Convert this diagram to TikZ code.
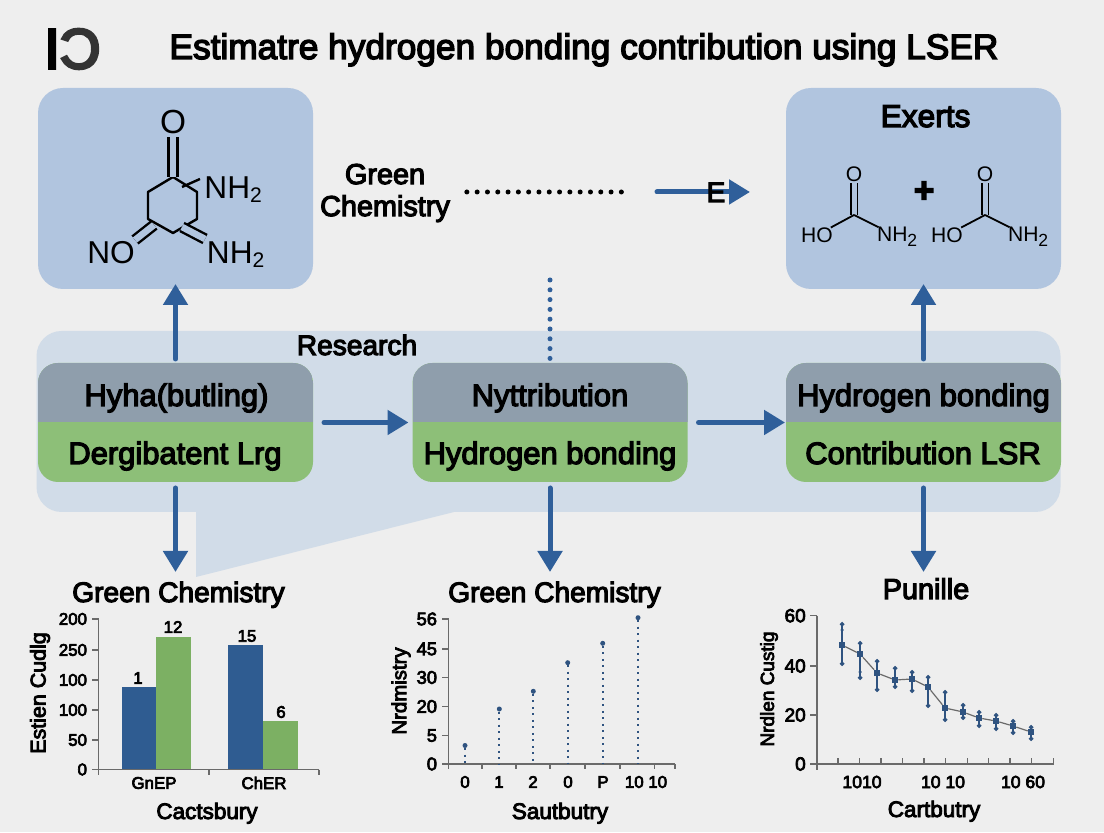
\documentclass[tikz,border=0pt]{standalone}
\usepackage{graphicx}
\usepackage{fontspec}
\setmainfont[FakeBold=4]{Liberation Sans}
\newfontfamily\logofont[FakeBold=5]{Liberation Sans}
\newfontfamily\atomfont{Liberation Sans}
\usetikzlibrary{arrows.meta}
\definecolor{PageGray}{HTML}{EEEEEE}
\definecolor{PanelBlue}{HTML}{D1DCE8}
\definecolor{BoxBlue}{HTML}{B1C5DF}
\definecolor{StageGray}{HTML}{8F9EAC}
\definecolor{StageGreen}{HTML}{8DBF78}
\definecolor{FlowBlue}{HTML}{2F5F9A}
\definecolor{BarBlue}{HTML}{2F5C91}
\definecolor{BarGreen}{HTML}{7CB063}
\definecolor{PlotBlue}{HTML}{2F5380}
\definecolor{AxisGray}{HTML}{6A6A6A}

\begin{document}
\begin{tikzpicture}[
        every node/.style={inner sep=0pt, outer sep=0pt},
        titletext/.style={font=\fontsize{10.03}{12}\selectfont},
        headtext/.style={font=\fontsize{8}{9.1}\selectfont},
        stagetext/.style={font=\fontsize{8.8}{10}\selectfont, anchor=base},
        atomtext/.style={font=\atomfont\fontsize{9}{10}\selectfont},
        smallatom/.style={font=\atomfont\fontsize{6}{7}\selectfont},
        axistext/.style={font=\fontsize{6.4}{7}\selectfont},
        ticktext/.style={font=\fontsize{4.8}{6}\selectfont},
        molbox/.style={rounded corners=.25cm, fill=BoxBlue, minimum width=2.75cm, minimum height=2.01cm},
        stagebox/.style={rounded corners=.2cm, fill=StageGreen, minimum width=2.75cm, minimum height=1.19cm,
            path picture={\fill[StageGray, sharp corners] (path picture bounding box.north west) rectangle (path picture bounding box.east);}},
        flow/.style={-{Triangle[length=.21cm,width=.24cm]}, draw=FlowBlue, line width=.05cm, line cap=round},
        bond/.style={draw=black, line width=.024cm},
        dblbond/.style={bond, double=BoxBlue, double distance=.066cm},
        thinbond/.style={draw=black, line width=.018cm},
        thindbl/.style={thinbond, double=BoxBlue, double distance=.05cm},
        axisline/.style={draw=AxisGray, line width=.012cm},
        stem/.style={draw=PlotBlue, line width=.018cm, dash pattern=on .02cm off .045cm},
        dotpt/.style={circle, fill=PlotBlue, minimum size=.05cm},
        sqpt/.style={rectangle, fill=PlotBlue, minimum size=.065cm},
        whisk/.style={circle, fill=PlotBlue, minimum size=.035cm},
        errbar/.style={{Circle[length=.045cm]}-{Circle[length=.045cm]}, draw=PlotBlue, line width=.012cm}]
    \fill[PageGray] (0,0) rectangle (11.04,8.32);
    \useasboundingbox (0,0) rectangle (11.04,8.32);

    % header
    \node[font=\logofont\fontsize{16}{18}\selectfont] (logo) at (0.725,7.83) {\reflectbox{\textcolor{black!80}{C}I}};
    \node[titletext, anchor=base] (title) at (5.84,7.73) {Estimatre hydrogen bonding contribution using LSER};

    % research panel
    \node[rounded corners=.25cm, fill=PanelBlue, minimum width=10.24cm, minimum height=1.81cm] (panel) at (5.485,4.105) {};
    \fill[PanelBlue] (1.96,3.20) -- (1.96,2.55) -- (4.54,3.20) -- cycle;
    \node[headtext, anchor=base] (research) at (3.57,4.77) {Research};

    % upper boxes
    \node[molbox] (reactant) at (1.755,6.435) {};
    \node[molbox] (exerts) at (9.235,6.435) {};
    \node[headtext, font=\fontsize{8.2}{9.1}\selectfont, align=center] (greenchem) at (3.85,6.39) {Green\\Chemistry};
    \node[headtext, font=\fontsize{9}{10}\selectfont, anchor=base] (exertslabel) at (9.255,7.05) {Exerts};

    % stages
    \node[stagebox] (hb1) at (1.755,4.095) {};
    \node[stagebox] (hb2) at (5.50,4.095) {};
    \node[stagebox] (hb3) at (9.235,4.095) {};
    \node[stagetext] (hb1top) at (1.765,4.26) {Hyha(butling)};
    \node[stagetext] (hb1low) at (1.75,3.68) {Dergibatent Lrg};
    \node[stagetext] (hb2top) at (5.50,4.26) {Nyttribution};
    \node[stagetext] (hb2low) at (5.50,3.68) {Hydrogen bonding};
    \node[stagetext] (hb3top) at (9.235,4.26) {Hydrogen bonding};
    \node[stagetext] (hb3low) at (9.23,3.68) {Contribution LSR};

    % connectors
    \coordinate (d1) at (1.755,2.60);
    \coordinate (d2) at (5.50,2.60);
    \coordinate (d3) at (9.235,2.60);
    \coordinate (etail) at (6.57,6.40);
    \coordinate (etip) at (7.50,6.40);
    \coordinate (dotend) at (6.25,6.40);
    \coordinate (dottop) at (5.50,5.52);
    \draw[flow, shorten <=.04cm, shorten >=-.05cm] (hb1.north) -- (reactant.south);
    \draw[flow, shorten <=.04cm, shorten >=-.05cm] (hb3.north) -- (exerts.south);
    \draw[flow, shorten <=.06cm] (hb1.south) -- (d1);
    \draw[flow, shorten <=.06cm] (hb2.south) -- (d2);
    \draw[flow, shorten <=.06cm] (hb3.south) -- (d3);
    \draw[flow, shorten <=.11cm, shorten >=.04cm] (hb1.east) -- (hb2.west);
    \draw[flow, shorten <=.11cm, shorten >=.01cm] (hb2.east) -- (hb3.west);
    \draw[flow] (etail) -- (etip);
    \node[headtext, anchor=base] (elabel) at (7.16,6.30) {E};
    \draw[draw=black, line width=.05cm, line cap=round, dash pattern=on 0pt off .103cm, shorten <=.17cm] (greenchem.east |- dotend) -- (dotend);
    \draw[draw=FlowBlue, line width=.05cm, line cap=round, dash pattern=on 0pt off .098cm, shorten >=.03cm] (dottop) -- (hb2.north);

    % molecule on the left
    \coordinate (r1) at (1.73,6.55);
    \coordinate (r2) at (1.97,6.40);
    \coordinate (r3) at (1.97,6.13);
    \coordinate (r4) at (1.73,5.99);
    \coordinate (r5) at (1.48,6.13);
    \coordinate (r6) at (1.48,6.40);
    \coordinate (na) at (1.82,6.45);
    \coordinate (nb) at (2.00,6.53);
    \coordinate (ca) at (1.54,6.07);
    \coordinate (cb) at (1.35,5.92);
    \coordinate (cc) at (1.82,6.05);
    \coordinate (cd) at (2.05,5.93);
    \node[atomtext, font=\atomfont\fontsize{9.5}{10}\selectfont] (oxo) at (1.73,7.10) {O};
    \node[atomtext] (nhtop) at (2.34,6.42) {NH\textsubscript{2}};
    \node[atomtext] (nolabel) at (1.11,5.79) {NO};
    \node[atomtext] (nhlow) at (2.365,5.77) {NH\textsubscript{2}};
    \draw[bond, line join=round] (r1) -- (r2) -- (r3) -- (r4) -- (r5) -- (r6) -- cycle;
    \draw[dblbond, shorten >=.03cm] (r1) -- (oxo.south);
    \draw[bond] (na) -- (nb);
    \draw[dblbond] (ca) -- (cb);
    \draw[dblbond] (cc) -- (cd);

    % molecules on the right
    \coordinate (c1) at (8.54,6.17);
    \coordinate (c2) at (9.85,6.17);
    \node[smallatom] (o1) at (8.54,6.58) {O};
    \node[smallatom] (h1) at (8.17,5.97) {HO};
    \node[smallatom] (n1) at (8.98,5.95) {NH\textsubscript{2}};
    \node[smallatom] (o2) at (9.85,6.58) {O};
    \node[smallatom] (h2) at (9.47,5.97) {HO};
    \node[smallatom] (n2) at (10.29,5.95) {NH\textsubscript{2}};
    \node[font=\fontsize{10}{12}\bfseries\selectfont] (plus) at (9.24,6.40) {+};
    \draw[thindbl, shorten >=.02cm] (c1) -- (o1.south);
    \draw[thinbond] (c1) -- (h1);
    \draw[thinbond] (c1) -- (n1);
    \draw[thindbl, shorten >=.02cm] (c2) -- (o2.south);
    \draw[thinbond] (c2) -- (h2);
    \draw[thinbond] (c2) -- (n2);

    % bar chart
    \node[headtext, anchor=base] (gc1) at (1.785,2.30) {Green Chemistry};
    \fill[BarBlue] (1.22,.625) rectangle (1.56,1.45);
    \fill[BarGreen] (1.56,.625) rectangle (1.91,1.95);
    \fill[BarBlue] (2.28,.625) rectangle (2.63,1.87);
    \fill[BarGreen] (2.63,.625) rectangle (2.98,1.11);
    \draw[axisline] (.987,2.13) -- (.987,.625) -- (3.19,.625);
    \draw[axisline] (.92,2.13) -- (.987,2.13) (.92,1.82) -- (.987,1.82) (.92,1.52) -- (.987,1.52) (.92,1.22) -- (.987,1.22) (.92,.92) -- (.987,.92) (.92,.625) -- (.987,.625);
    \draw[axisline] (.987,.625) -- (.987,.575) (2.09,.625) -- (2.09,.575) (3.19,.625) -- (3.19,.575);
    \node[ticktext, anchor=east] (a1) at (.87,2.13) {200};
    \node[ticktext, anchor=east] (a2) at (.87,1.82) {250};
    \node[ticktext, anchor=east] (a3) at (.87,1.52) {100};
    \node[ticktext, anchor=east] (a4) at (.87,1.22) {100};
    \node[ticktext, anchor=east] (a5) at (.87,.92) {50};
    \node[ticktext, anchor=east] (a6) at (.87,.625) {0};
    \node[ticktext] (v1) at (1.38,1.54) {1};
    \node[ticktext] (v2) at (1.73,2.05) {12};
    \node[ticktext] (v3) at (2.47,1.96) {15};
    \node[ticktext] (v4) at (2.81,1.20) {6};
    \node[ticktext] (l1) at (1.54,.49) {GnEP};
    \node[ticktext] (l2) at (2.64,.49) {ChER};
    \node[axistext, anchor=base] (xa) at (2.07,.13) {Cactsbury};
    \node[axistext, font=\fontsize{6.1}{7}\selectfont, rotate=90] (ya) at (.40,1.39) {Estien Cudlg};

    % stem chart
    \node[headtext, anchor=base] (gc2) at (5.545,2.30) {Green Chemistry};
    \coordinate (o2a) at (4.487,.68);
    \draw[axisline] (4.487,2.13) -- (o2a) -- (6.75,.68);
    \draw[axisline] (4.42,2.13) -- (4.487,2.13) (4.42,1.83) -- (4.487,1.83) (4.42,1.545) -- (4.487,1.545) (4.42,1.255) -- (4.487,1.255) (4.42,.965) -- (4.487,.965) (4.42,.68) -- (4.487,.68);
    \draw[axisline] (4.487,.68) -- (4.487,.63) (4.82,.68) -- (4.82,.63) (5.16,.68) -- (5.16,.63) (5.50,.68) -- (5.50,.63) (5.85,.68) -- (5.85,.63) (6.20,.68) -- (6.20,.63) (6.543,.68) -- (6.543,.63) (6.75,.68) -- (6.75,.63);
    \node[dotpt] (s1) at (4.65,.865) {};
    \node[dotpt] (s2) at (4.993,1.23) {};
    \node[dotpt] (s3) at (5.333,1.407) {};
    \node[dotpt] (s4) at (5.677,1.693) {};
    \node[dotpt] (s5) at (6.027,1.887) {};
    \node[dotpt] (s6) at (6.38,2.143) {};
    \draw[stem] (s1) -- (s1 |- o2a);
    \draw[stem] (s2) -- (s2 |- o2a);
    \draw[stem] (s3) -- (s3 |- o2a);
    \draw[stem] (s4) -- (s4 |- o2a);
    \draw[stem] (s5) -- (s5 |- o2a);
    \draw[stem] (s6) -- (s6 |- o2a);
    \node[ticktext, anchor=east, font=\fontsize{5.2}{6}\selectfont] (b1) at (4.37,2.13) {56};
    \node[ticktext, anchor=east, font=\fontsize{5.2}{6}\selectfont] (b2) at (4.37,1.83) {45};
    \node[ticktext, anchor=east, font=\fontsize{5.2}{6}\selectfont] (b3) at (4.37,1.545) {30};
    \node[ticktext, anchor=east, font=\fontsize{5.2}{6}\selectfont] (b4) at (4.37,1.255) {20};
    \node[ticktext, anchor=east, font=\fontsize{5.2}{6}\selectfont] (b5) at (4.37,.965) {5};
    \node[ticktext, anchor=east, font=\fontsize{5.2}{6}\selectfont] (b6) at (4.37,.68) {0};
    \node[ticktext] (m1) at (4.65,.50) {0};
    \node[ticktext] (m2) at (4.99,.50) {1};
    \node[ticktext] (m3) at (5.33,.50) {2};
    \node[ticktext] (m4) at (5.68,.50) {0};
    \node[ticktext] (m5) at (6.03,.50) {P};
    \node[ticktext] (m6) at (6.46,.50) {10 10};
    \node[axistext, anchor=base] (xb) at (5.60,.13) {Sautbutry};
    \node[axistext, font=\fontsize{5.8}{7}\selectfont, rotate=90] (yb) at (4.01,1.41) {Nrdmistry};

    % trend chart
    \node[headtext, font=\fontsize{8.2}{9}\selectfont, anchor=base] (gc3) at (9.26,2.33) {Punille};
    \draw[axisline] (8.17,2.163) -- (8.17,.68) -- (10.537,.68);
    \draw[axisline] (8.10,2.163) -- (8.17,2.163) (8.10,1.66) -- (8.17,1.66) (8.10,1.17) -- (8.17,1.17) (8.10,.68) -- (8.17,.68);
    \draw[axisline] (8.17,.68) -- (8.17,.62) (8.38,.74) -- (8.38,.68) (8.593,.74) -- (8.593,.68) (8.81,.74) -- (8.81,.68) (9.027,.74) -- (9.027,.68) (9.24,.74) -- (9.24,.68) (9.457,.74) -- (9.457,.68) (9.673,.74) -- (9.673,.68) (9.887,.74) -- (9.887,.68) (10.10,.74) -- (10.10,.68) (10.313,.74) -- (10.313,.68) (10.537,.74) -- (10.537,.68);
    \draw[errbar] (8.42,1.66) -- (8.42,2.10);
    \draw[errbar] (8.60,1.52) -- (8.60,1.91);
    \draw[errbar] (8.77,1.40) -- (8.77,1.73);
    \draw[errbar] (8.95,1.43) -- (8.95,1.66);
    \draw[errbar] (9.12,1.39) -- (9.12,1.62);
    \draw[errbar] (9.28,1.24) -- (9.28,1.57);
    \draw[errbar] (9.45,1.10) -- (9.45,1.42);
    \draw[errbar] (9.63,1.12) -- (9.63,1.29);
    \draw[errbar] (9.79,1.04) -- (9.79,1.22);
    \draw[errbar] (9.96,1.01) -- (9.96,1.19);
    \draw[errbar] (10.13,.97) -- (10.13,1.13);
    \draw[errbar] (10.31,.91) -- (10.31,1.07);
    \node[whisk] (w1) at (8.42,2.02) {};
    \node[whisk] (w2) at (8.60,1.60) {};
    \node[sqpt] (p1) at (8.42,1.87) {};
    \node[sqpt] (p2) at (8.60,1.78) {};
    \node[sqpt] (p3) at (8.77,1.59) {};
    \node[sqpt] (p4) at (8.95,1.52) {};
    \node[sqpt] (p5) at (9.12,1.53) {};
    \node[sqpt] (p6) at (9.28,1.45) {};
    \node[sqpt] (p7) at (9.45,1.24) {};
    \node[sqpt] (p8) at (9.63,1.20) {};
    \node[sqpt] (p9) at (9.79,1.14) {};
    \node[sqpt] (p10) at (9.96,1.11) {};
    \node[sqpt] (p11) at (10.13,1.06) {};
    \node[sqpt] (p12) at (10.31,1.00) {};
    \draw[axisline] (p1) -- (p2) -- (p3) -- (p4) -- (p5) -- (p6) -- (p7) -- (p8) -- (p9) -- (p10) -- (p11) -- (p12);
    \node[ticktext, anchor=east, font=\fontsize{5.4}{6}\selectfont] (c60) at (8.057,2.163) {60};
    \node[ticktext, anchor=east, font=\fontsize{5.4}{6}\selectfont] (c40) at (8.057,1.66) {40};
    \node[ticktext, anchor=east, font=\fontsize{5.4}{6}\selectfont] (c20) at (8.057,1.17) {20};
    \node[ticktext, anchor=east, font=\fontsize{5.4}{6}\selectfont] (c0) at (8.057,.68) {0};
    \node[ticktext, font=\fontsize{5}{6}\selectfont] (n10) at (8.62,.50) {1010};
    \node[ticktext, font=\fontsize{5}{6}\selectfont] (n20) at (9.43,.50) {10 10};
    \node[ticktext, font=\fontsize{5}{6}\selectfont] (n30) at (10.23,.50) {10 60};
    \node[axistext, anchor=base] (xc) at (9.34,.15) {Cartbutry};
    \node[axistext, font=\fontsize{5.4}{6}\selectfont, rotate=90] (yc) at (7.69,1.43) {Nrdlen Custig};
\end{tikzpicture}
\end{document}
